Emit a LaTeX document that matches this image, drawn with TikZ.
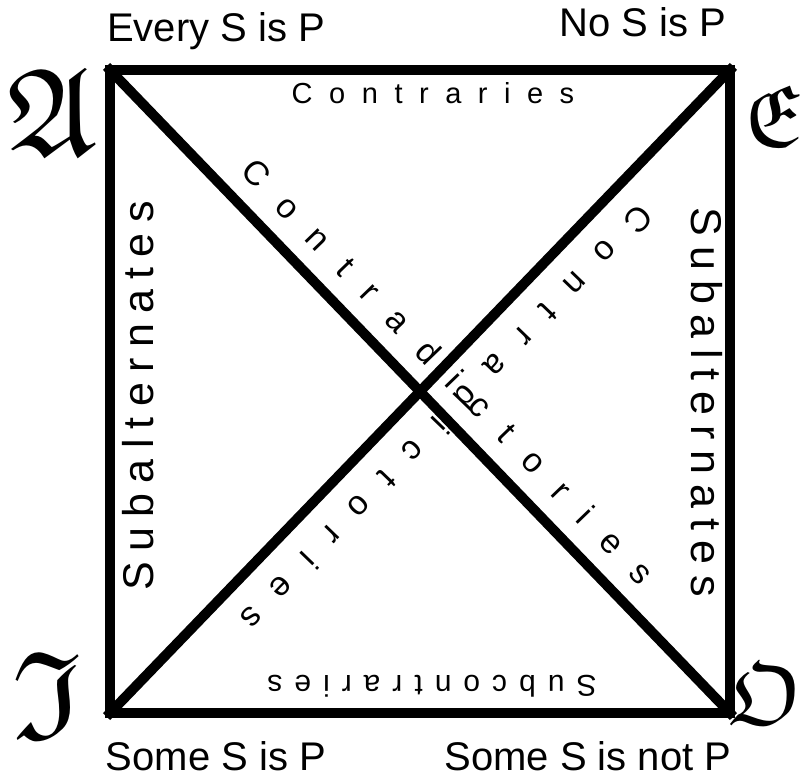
\documentclass[tikz,border=0pt]{standalone}
\usepackage{amssymb}
\usepackage{fontspec}
\setmainfont{Liberation Sans}
\usetikzlibrary{calc}
\tikzset{
  edge/.style={line width=10pt, line join=miter, line cap=rect},
  corner/.style={inner sep=0pt, font=\fontsize{125}{125}\selectfont},
  prop/.style={anchor=base, inner sep=0pt, font=\fontsize{40}{42}\selectfont},
  rel/.style={anchor=base, inner sep=0pt, font=\fontsize{29}{31}\selectfont}
}

\begin{document}
\begin{tikzpicture}[x=1pt, y=1pt]
  \useasboundingbox (0,0) rectangle (804,-782);
  \coordinate (A) at (110,-70);
  \coordinate (E) at (730,-70);
  \coordinate (I) at (110,-713);
  \coordinate (O) at (730,-713);
  \coordinate (M) at ($(A)!0.5!(O)$);
  \draw[edge] (A) -- (E) -- (O) -- (I) -- cycle;
  \draw[edge] (A) -- (O) (E) -- (I);
  % vogais dos cantos
  \node[corner] (la) at (52,-112) {$\mathfrak{A}$};
  \node[corner, anchor=east, font=\fontsize{88}{88}\selectfont] (le) at (802,-116) {$\mathfrak{E}$};
  \node[corner] (li) at (47,-695) {$\mathfrak{I}$};
  \node[corner, anchor=east, font=\fontsize{88}{88}\selectfont] (lo) at (802,-694) {$\mathfrak{O}$};
  % proposicoes
  \node[prop] (pa) at (216,-41) {Every S is P};
  \node[prop] (pe) at (643,-36) {No S is P};
  \node[prop] (pi) at (216,-770) {Some S is P};
  \node[prop] (po) at (588,-770) {Some S is not P};
  % relacoes
  \node[rel] (contr) at (433,-103) {\addfontfeature{LetterSpace=57}Contraries};
  \node[rel, font=\fontsize{30}{32}\selectfont] (subc) at (432,-675) [rotate=180]
    {\addfontfeature{LetterSpace=40}Subcontraries};
  \node[rel, font=\fontsize{43}{45}\selectfont] (suba) at (153,-396) [rotate=90]
    {\addfontfeature{LetterSpace=24}Subalternates};
  \node[rel, font=\fontsize{43}{45}\selectfont] (subb) at (691,-402) [rotate=-90]
    {\addfontfeature{LetterSpace=24}Subalternates};
  \node[rel, font=\fontsize{34}{36}\selectfont] (cda) at ($($(M)!5pt!(O)$)!22pt!90:(O)$) [rotate=-46]
    {\addfontfeature{LetterSpace=73}Contradictories};
  \node[rel, font=\fontsize{34}{36}\selectfont] (cdb) at ($(M)!26pt!90:(I)$) [rotate=-134]
    {\addfontfeature{LetterSpace=73}Contradictories};
\end{tikzpicture}
\end{document}
